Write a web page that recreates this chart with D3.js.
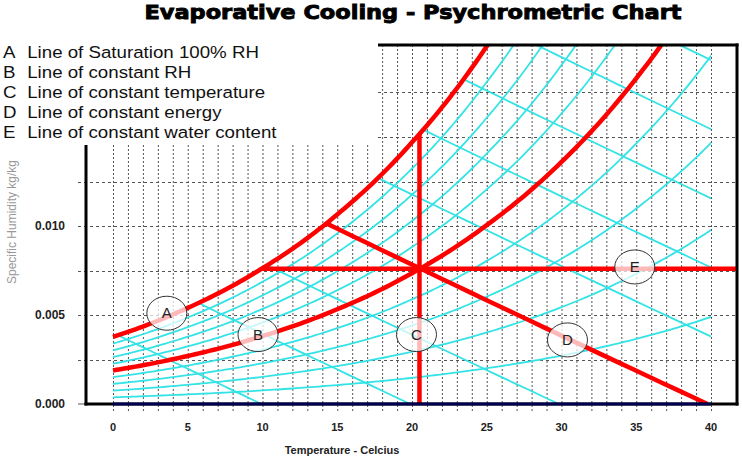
<!DOCTYPE html>
<html>
<head>
<meta charset="utf-8">
<script src="https://cdn.jsdelivr.net/npm/d3@7"></script>
<style>
body { margin: 0; background: #fff; }
svg { display: block; font-family: "Liberation Sans", Arial, sans-serif; }
</style>
</head>
<body>
<div id="chart"></div>
<script>
var satTemps = [0, 5, 10, 15, 20, 25, 30, 35, 40];
var satHumidity = [0.00377, 0.0054, 0.00763, 0.01065, 0.0147, 0.0201, 0.0272, 0.0366, 0.0489];
// cyan families
var rhLevels = [0.1, 0.2, 0.3, 0.4, 0.6, 0.7, 0.8, 0.9];
var energyLevels = [10, 20, 30, 50, 60, 70, 80, 90];
// red process lines A..E
var satRH = 1.0;
var processRH = 0.5;
var processTemp = 20.5;
var processEnergy = 40;
var processHumidity = 0.0076;
// ticks
var xTicks = [0, 5, 10, 15, 20, 25, 30, 35, 40];
var yTicks = [0, 0.005, 0.010];
var gridTemps = d3.range(0, 41, 1);
var gridHumidity = [0.0025, 0.005, 0.0075, 0.010, 0.0125, 0.015, 0.0175];
// callouts
var labelIds = ['A', 'B', 'C', 'D', 'E'];
var labelTemps = [3.6, 9.7, 20.3, 30.4, 34.9];
var labelHumidity = [0.0051, 0.0039, 0.0039, 0.0036, 0.0077];
var legendText = ['Line of Saturation 100% RH', 'Line of constant RH', 'Line of constant temperature',
  'Line of constant energy', 'Line of constant water content'];

var width = 742, height = 458;
var plotLeft = 86, plotRight = 737, plotTop = 45, plotBottom = 404;
var boxRight = 378, boxBottom = 145;

var x = d3.scaleLinear().domain([0, 40]).range([113, 711]);
var y = d3.scaleLinear().domain([0, 0.01]).range([404, 226]);
var qTop = y.invert(plotTop);
var tRight = x.invert(plotRight);

var satAt = function(T) {
  var i = Math.max(0, Math.min(Math.floor(T / 5), satTemps.length - 2));
  var t = (T - satTemps[i]) / (satTemps[i + 1] - satTemps[i]);
  return Math.exp(Math.log(satHumidity[i]) * (1 - t) + Math.log(satHumidity[i + 1]) * t);
}
var energyAt = function(h, T) {
  return (h - 1.006 * T) / (2501 + 1.86 * T);
}
var rhPoints = function(rh) {
  return d3.range(0, 42.01, 0.25).map(function(T) { return [T, rh * satAt(T)]; });
}
var energyPoints = function(h) {
  var t0 = h / 1.006;
  return d3.range(0, 41).map(function(i) { var T = t0 * i / 40; return [T, Math.max(0, energyAt(h, T))]; });
}

var line = d3.line().x(function(d) { return x(d[0]); }).y(function(d) { return y(d[1]); });

var svg = d3.select("#chart").append("svg")
  .attr("width", width)
  .attr("height", height);

var defs = svg.append("defs");
var underSat = function(tMax) {
  var pts = d3.range(0, tMax + 0.001, 0.1).map(function(T) { return [T, Math.min(satAt(T), qTop)]; });
  pts.push([tMax, 0]);
  pts.push([0, 0]);
  return line(pts) + "Z";
}
defs.append("clipPath").attr("id", "clipCyan").append("path").attr("d", underSat(40));
defs.append("clipPath").attr("id", "clipRed").append("path").attr("d", underSat(tRight));
defs.append("clipPath").attr("id", "clipRect").append("rect")
  .attr("x", plotLeft).attr("y", plotTop).attr("width", plotRight - plotLeft).attr("height", plotBottom - plotTop);

// title
svg.append("text")
  .attr("x", 413).attr("y", 19)
  .attr("text-anchor", "middle")
  .attr("textLength", 537).attr("lengthAdjust", "spacingAndGlyphs")
  .style("font-family", "'DejaVu Sans', sans-serif")
  .style("font-weight", "bold")
  .style("font-size", "19px")
  .style("stroke", "#000").style("stroke-width", 0.9)
  .text("Evaporative Cooling - Psychrometric Chart");

// legend
var legend = svg.append("g").attr("transform", "translate(3,0) scale(1.1,1)");
legend.selectAll(".key").data(labelIds).enter()
  .append("text")
  .attr("x", 0)
  .attr("y", function(d, i) { return 58 + i * 20; })
  .style("font-size", "17px").style("fill", "#111")
  .text(function(d) { return d; });
legend.selectAll(".desc").data(legendText).enter()
  .append("text")
  .attr("x", 22)
  .attr("y", function(d, i) { return 58 + i * 20; })
  .style("font-size", "17px").style("fill", "#111")
  .text(function(d) { return d; });

// grid
var grid = svg.append("g").attr("stroke", "#555").attr("stroke-width", 1);
grid.selectAll(".vg").data(gridTemps).enter()
  .append("line")
  .attr("x1", function(d) { return x(d) + 0.5; })
  .attr("x2", function(d) { return x(d) + 0.5; })
  .attr("y1", function(d) { return x(d) < boxRight ? boxBottom : plotTop; })
  .attr("y2", plotBottom + 9)
  .attr("stroke-dasharray", "2,2");
grid.selectAll(".hg").data(gridHumidity).enter()
  .append("line")
  .attr("x1", function(d) { return y(d) < boxBottom ? boxRight : 78; })
  .attr("x2", plotRight)
  .attr("y1", function(d) { return Math.round(y(d)) + 0.5; })
  .attr("y2", function(d) { return Math.round(y(d)) + 0.5; })
  .attr("stroke-dasharray", "3,3");
grid.append("line").attr("x1", 78).attr("x2", plotLeft).attr("y1", plotBottom).attr("y2", plotBottom);

// cyan lines
var cyan = svg.append("g").attr("clip-path", "url(#clipCyan)")
  .attr("fill", "none").attr("stroke", "#33e3e6").attr("stroke-width", 1.8);
cyan.selectAll(".rh").data(rhLevels).enter()
  .append("path").attr("d", function(d) { return line(rhPoints(d)); });
cyan.selectAll(".en").data(energyLevels).enter()
  .append("path").attr("d", function(d) { return line(energyPoints(d)); });

// red lines
var red = svg.append("g").attr("fill", "none").attr("stroke", "#ff0000")
  .attr("stroke-width", 4.5).attr("stroke-linejoin", "round");
var redClip = red.append("g").attr("clip-path", "url(#clipRed)");
redClip.append("path").attr("d", line(energyPoints(processEnergy)));
redClip.append("path").attr("d", line([[0, processHumidity], [tRight, processHumidity]]));
var redRect = red.append("g").attr("clip-path", "url(#clipRect)");
redRect.append("path").attr("d", line([[processTemp, 0], [processTemp, satAt(processTemp)]]));
redRect.append("path").attr("d", line(rhPoints(processRH)));
redRect.append("path").attr("d", line(rhPoints(satRH)));

// frame
var frame = svg.append("g").attr("stroke-width", 3).attr("fill", "none");
frame.append("line").attr("x1", plotLeft).attr("x2", plotLeft).attr("y1", boxBottom).attr("y2", plotBottom + 1.5).attr("stroke", "#000");
frame.append("line").attr("x1", plotRight).attr("x2", plotRight).attr("y1", plotTop - 1.5).attr("y2", plotBottom + 1.5).attr("stroke", "#000");
frame.append("line").attr("x1", boxRight).attr("x2", plotRight + 1.5).attr("y1", plotTop).attr("y2", plotTop).attr("stroke", "#000");
frame.append("line").attr("x1", plotLeft - 1.5).attr("x2", plotRight + 1.5).attr("y1", plotBottom).attr("y2", plotBottom).attr("stroke", "#000");
frame.append("line").attr("x1", x(0)).attr("x2", x(40)).attr("y1", plotBottom).attr("y2", plotBottom).attr("stroke", "#000050");

// axis labels
svg.selectAll(".xl").data(xTicks).enter()
  .append("text")
  .attr("x", function(d) { return x(d); })
  .attr("y", 431)
  .attr("text-anchor", "middle")
  .style("font-size", "11px").style("font-weight", "bold").style("fill", "#222")
  .text(function(d) { return d; });
svg.selectAll(".yl").data(yTicks).enter()
  .append("text")
  .attr("x", 65)
  .attr("y", function(d) { return y(d) + 4; })
  .attr("text-anchor", "end")
  .style("font-size", "12px").style("font-weight", "bold").style("fill", "#222")
  .text(function(d) { return d3.format(".3f")(d); });
svg.append("text")
  .attr("x", 342).attr("y", 454)
  .attr("text-anchor", "middle")
  .style("font-size", "11px").style("font-weight", "bold").style("fill", "#222")
  .text("Temperature - Celcius");
svg.append("text")
  .attr("transform", "translate(16,222) rotate(-90)")
  .attr("text-anchor", "middle")
  .style("font-size", "12px").style("fill", "#999")
  .text("Specific Humidity kg/kg");

// callouts
var callouts = svg.selectAll(".callout").data(labelIds).enter()
  .append("g")
  .attr("transform", function(d, i) { return "translate(" + x(labelTemps[i]) + "," + y(labelHumidity[i]) + ")"; });
callouts.append("ellipse")
  .attr("rx", 20).attr("ry", 17)
  .attr("fill", "#fff").attr("fill-opacity", 0.72)
  .attr("stroke", "#333").attr("stroke-width", 1);
callouts.append("text")
  .attr("y", 5)
  .attr("text-anchor", "middle")
  .style("font-size", "15px").style("fill", "#222")
  .text(function(d) { return d; });
</script>
</body>
</html>
